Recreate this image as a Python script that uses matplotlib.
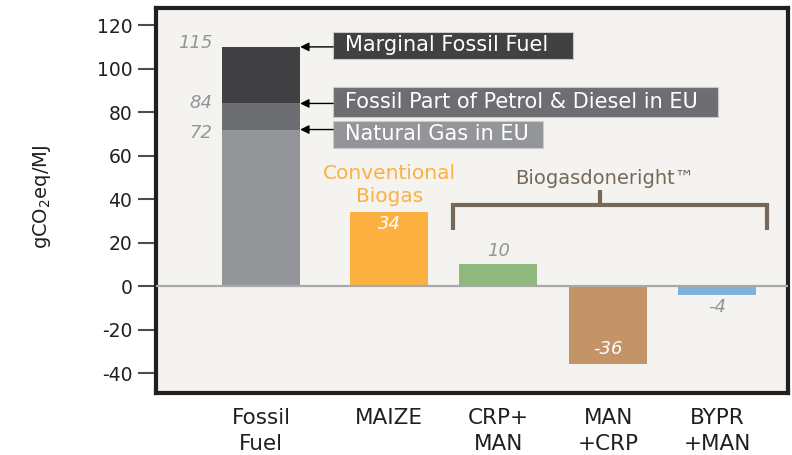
import matplotlib
matplotlib.use("Agg")
from matplotlib import pyplot as plt
from matplotlib.patches import Rectangle

# data
categories = ["Fossil\nFuel", "MAIZE", "CRP+\nMAN", "MAN\n+CRP", "BYPR\n+MAN"]
fossil_levels = [72, 84, 110]          # stacked tops as drawn
fossil_labels = ["72", "84", "115"]
fossil_names = ["Natural Gas in EU", "Fossil Part of Petrol & Diesel in EU",
                "Marginal Fossil Fuel"]
bio_values = [34, 10, -36, -4]
yticks = [-40, -20, 0, 20, 40, 60, 80, 100, 120]

fossil_colors = ["#939598", "#6d6e71", "#414042"]
bio_colors = ["#fbb040", "#8fb97c", "#c29467", "#7fb2d9"]
txt_dark = "#231f20"
lab_gray = "#939598"
bracket_col = "#76695b"

plt.rcParams['font.family'] = ['DejaVu Sans']

fig = plt.figure(figsize=(7.92, 4.55), dpi=100)
ax = fig.add_axes([0.197, 0.136, 0.798, 0.846])
ax.set_facecolor("#f4f3ef")

xpos = [0, 1.164, 2.155, 3.155, 4.145]
w = 0.71

# stacked fossil bar
bottom = 0
for top, c in zip(fossil_levels, fossil_colors):
    ax.bar(xpos[0], top - bottom, w, bottom=bottom, color=c, zorder=2)
    bottom = top

bars = ax.bar(xpos[1:], bio_values, w, color=bio_colors, zorder=2)

ax.axhline(0, color="#a7a9ac", lw=1.6, zorder=3)

# value labels next to fossil bar
lab_y = [70.5, 84, 112]
for y, t in zip(lab_y, fossil_labels):
    ax.text(xpos[0] - w / 2 - 0.09, y, t, ha="right", va="center",
            fontsize=13, style="italic", color=lab_gray)

# boxes with arrows
box_specs = [  # (x0, x1, y0, y1, text_y)
    (0.655, 2.564, 63.4, 75.9, 69.9),
    (0.655, 4.155, 77.7, 91.5, 84.6),
    (0.655, 2.836, 104.4, 116.8, 110.8),
]
for (x0, x1, y0, y1, ty), name, c, lvl in zip(box_specs, fossil_names,
                                                fossil_colors, fossil_levels):
    ax.add_patch(Rectangle((x0, y0), x1 - x0, y1 - y0, fc=c, ec="#c9c9c9",
                           lw=0.8, zorder=4))
    ax.text(x0 + 0.11, ty, name, ha="left", va="center", fontsize=15,
            color="white", zorder=5)
    ax.annotate("", xy=(xpos[0] + w / 2, lvl), xytext=(x0, lvl),
                arrowprops=dict(arrowstyle="-|>", color="black", lw=1,
                                mutation_scale=13, shrinkA=0, shrinkB=0),
                zorder=5)

# labels on bio bars
ax.text(xpos[1], bio_values[0] - 5.5, "34", ha="center", va="center",
        fontsize=13, style="italic", color="white", zorder=4)
ax.text(xpos[2], bio_values[1] + 6, "10", ha="center", va="center",
        fontsize=13, style="italic", color=lab_gray, zorder=4)
ax.text(xpos[3], bio_values[2] + 7, "-36", ha="center", va="center",
        fontsize=13, style="italic", color="white", zorder=4)
ax.text(xpos[4], bio_values[3] - 5.5, "-4", ha="center", va="center",
        fontsize=13, style="italic", color=lab_gray, zorder=4)

ax.text(xpos[1], 46.5, "Conventional\nBiogas", ha="center", va="center",
        fontsize=14.5, color="#fbb040", linespacing=1.25)

# bracket for Biogasdoneright
bx0, bx1 = 1.745, 4.6
ax.plot([bx0, bx0, bx1, bx1], [26, 37.5, 37.5, 26], color=bracket_col,
        lw=3, solid_joinstyle="miter", solid_capstyle="butt", zorder=3)
ax.plot([(bx0 + bx1) / 2 - 0.09] * 2, [37.5, 44], color=bracket_col, lw=3,
        solid_capstyle="butt", zorder=3)
ax.text((bx0 + bx1) / 2 - 0.05, 49.5, "Biogasdoneright\u2122", ha="center",
        va="center", fontsize=14, color=bracket_col)

ax.set_xlim(-0.955, 4.79)
ax.set_ylim(-49.2, 127.8)
ax.set_yticks(yticks)
ax.set_yticklabels([str(v) for v in yticks], fontsize=13.5, color=txt_dark)
ax.set_xticks(xpos)
ax.set_xticklabels(categories, fontsize=15.5, color=txt_dark, linespacing=1.35)
ax.tick_params(axis="x", length=0, pad=11)
ax.tick_params(axis="y", length=13, width=1.5, color="#4d4d4f", pad=4)
for s in ax.spines.values():
    s.set_linewidth(3)
    s.set_color(txt_dark)

ax.set_ylabel("gCO$_2$eq/MJ", fontsize=14, color=txt_dark)
ax.yaxis.set_label_coords(-0.163, 0.51)

fig.savefig("out.png", dpi=100)
